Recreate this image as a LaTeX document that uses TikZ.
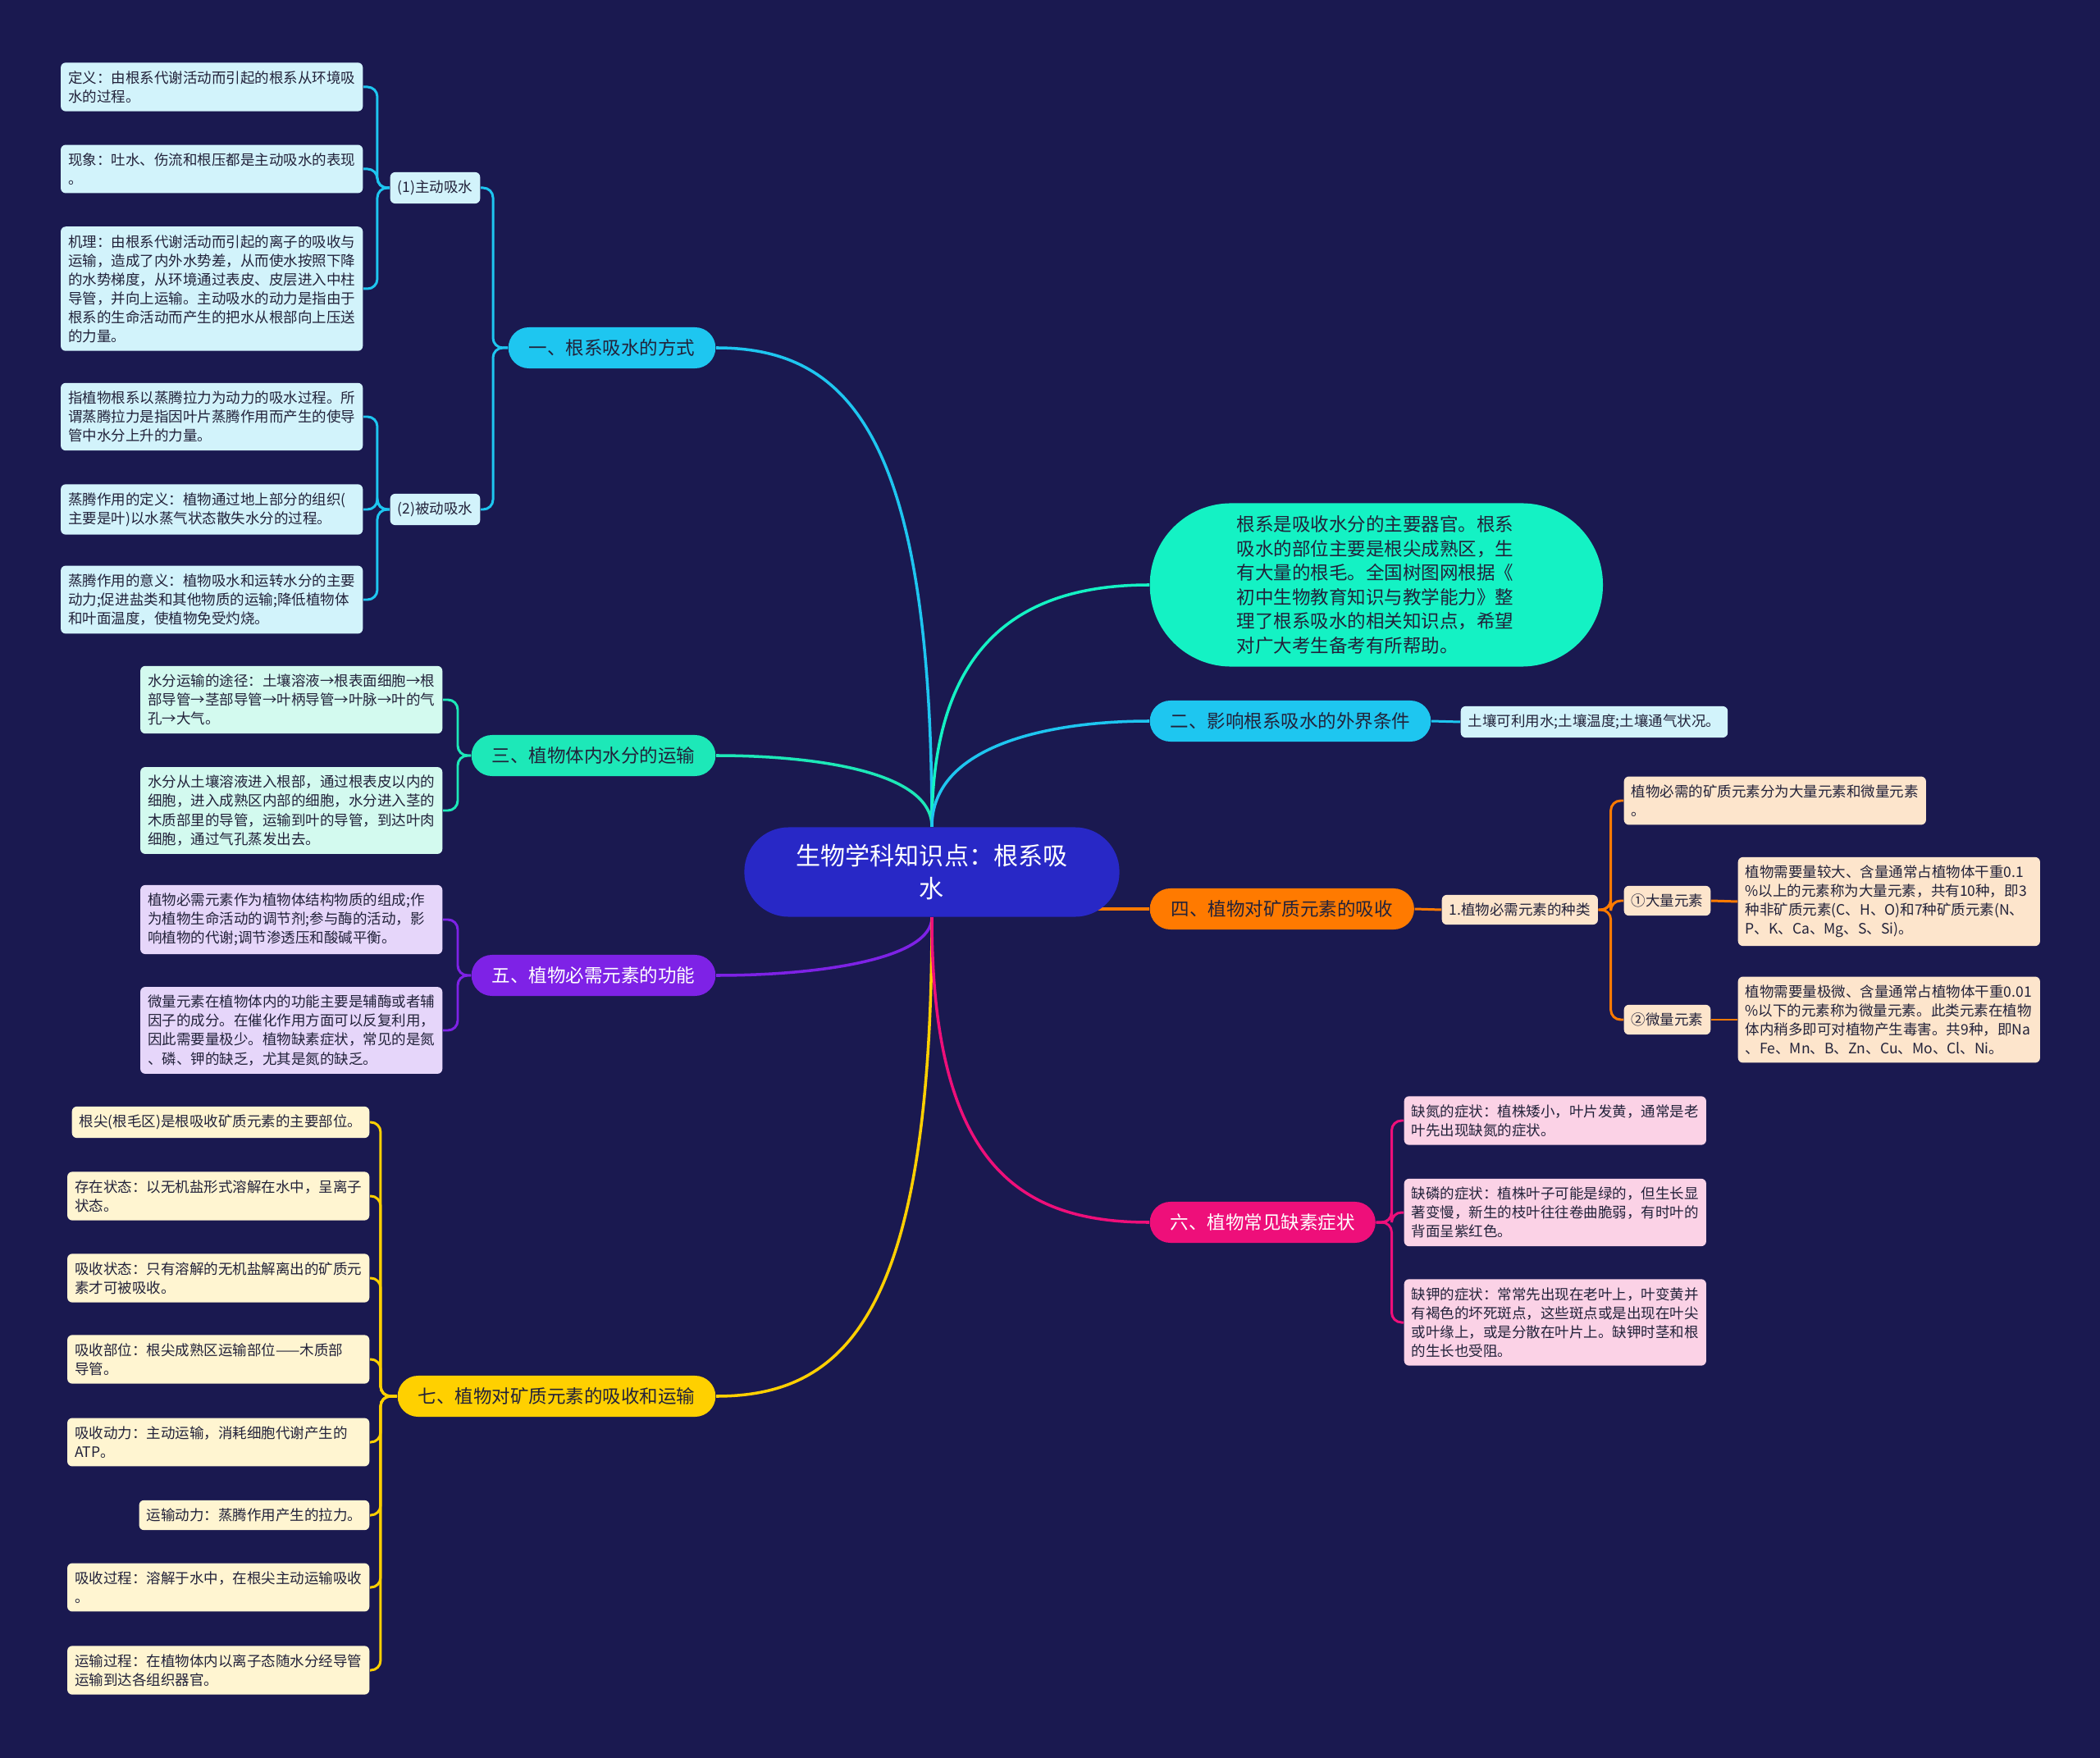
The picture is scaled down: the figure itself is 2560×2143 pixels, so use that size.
\documentclass[tikz,border=0pt]{standalone}
\usepackage{fontspec}
\setmainfont{Noto Sans CJK SC}
\usepackage{xcolor}
\usepackage{tikz}
\usetikzlibrary{calc}
\definecolor{bgx}{HTML}{1A1950}
\definecolor{rootx}{HTML}{2828C6}
\definecolor{inkx}{HTML}{22223A}
\definecolor{cyx}{HTML}{1EC6F0}
\definecolor{cylt}{HTML}{D2F3FB}
\definecolor{tqx}{HTML}{1DE8B8}
\definecolor{tqlt}{HTML}{D3FAEF}
\definecolor{aqx}{HTML}{14F2C4}
\definecolor{orx}{HTML}{FF7A00}
\definecolor{orlt}{HTML}{FDE5CC}
\definecolor{pux}{HTML}{7E22E6}
\definecolor{pult}{HTML}{E6D6FA}
\definecolor{mgx}{HTML}{EE0F7A}
\definecolor{mglt}{HTML}{FBD2E6}
\definecolor{gdx}{HTML}{FFD000}
\definecolor{gdlt}{HTML}{FFF5D1}
\pgfdeclarelayer{links}
\pgfsetlayers{links,main}
\tikzset{
  leaf/.style={font=\fontsize{4.98pt}{6.55pt}\selectfont,text=inkx,rounded corners=0.06cm,inner xsep=0.09cm,inner ysep=0.1cm,align=left},
  wide/.style={text width=3.5cm},
  branch/.style={font=\fontsize{6.4pt}{8pt}\selectfont,text=inkx,rounded corners=0.25cm,minimum height=0.5cm,inner xsep=0.25cm,inner ysep=0pt},
  mainln/.style={line width=1pt},
  subln/.style={line width=0.85pt,rounded corners=0.12cm}
}
\begin{document}
\begin{tikzpicture}[x=0.01cm,y=-0.01cm]
\useasboundingbox (0,0) rectangle (2560,2143);
% centre
\node[fill=rootx,text=white,font=\fontsize{8.54pt}{11.4pt}\selectfont,align=center,minimum width=4.57cm,minimum height=1.09cm,rounded corners=0.54cm] (root) at (1136,1063) {生物学科知识点：根系吸\\水};
% left side
\node[branch,fill=cyx,anchor=east] (b1) at (873,424) {一、根系吸水的方式};
\node[leaf,fill=cylt,anchor=east] (s1) at (586,229) {(1)主动吸水};
\node[leaf,fill=cylt,anchor=east] (s2) at (586,621) {(2)被动吸水};
\node[leaf,wide,fill=cylt,anchor=east] (l11) at (443,106) {定义：由根系代谢活动而引起的根系从环境吸\\水的过程。};
\node[leaf,wide,fill=cylt,anchor=east] (l12) at (443,206) {现象：吐水、伤流和根压都是主动吸水的表现\\。};
\node[leaf,wide,fill=cylt,anchor=east] (l13) at (443,352) {机理：由根系代谢活动而引起的离子的吸收与\\运输，造成了内外水势差，从而使水按照下降\\的水势梯度，从环境通过表皮、皮层进入中柱\\导管，并向上运输。主动吸水的动力是指由于\\根系的生命活动而产生的把水从根部向上压送\\的力量。};
\node[leaf,wide,fill=cylt,anchor=east] (l21) at (443,508) {指植物根系以蒸腾拉力为动力的吸水过程。所\\谓蒸腾拉力是指因叶片蒸腾作用而产生的使导\\管中水分上升的力量。};
\node[leaf,wide,fill=cylt,anchor=east] (l22) at (443,621) {蒸腾作用的定义：植物通过地上部分的组织(\\主要是叶)以水蒸气状态散失水分的过程。};
\node[leaf,wide,fill=cylt,anchor=east] (l23) at (443,731) {蒸腾作用的意义：植物吸水和运转水分的主要\\动力;促进盐类和其他物质的运输;降低植物体\\和叶面温度，使植物免受灼烧。};
\node[branch,fill=tqx,anchor=east] (b3) at (873,921) {三、植物体内水分的运输};
\node[leaf,wide,fill=tqlt,anchor=east] (l31) at (540,853) {水分运输的途径：土壤溶液→根表面细胞→根\\部导管→茎部导管→叶柄导管→叶脉→叶的气\\孔→大气。};
\node[leaf,wide,fill=tqlt,anchor=east] (l32) at (540,988) {水分从土壤溶液进入根部，通过根表皮以内的\\细胞，进入成熟区内部的细胞，水分进入茎的\\木质部里的导管，运输到叶的导管，到达叶肉\\细胞，通过气孔蒸发出去。};
\node[branch,fill=pux,text=white,anchor=east] (b5) at (873,1189) {五、植物必需元素的功能};
\node[leaf,wide,fill=pult,anchor=east] (l51) at (540,1121) {植物必需元素作为植物体结构物质的组成;作\\为植物生命活动的调节剂;参与酶的活动，影\\响植物的代谢;调节渗透压和酸碱平衡。};
\node[leaf,wide,fill=pult,anchor=east] (l52) at (540,1256) {微量元素在植物体内的功能主要是辅酶或者辅\\因子的成分。在催化作用方面可以反复利用，\\因此需要量极少。植物缺素症状，常见的是氮\\、磷、钾的缺乏，尤其是氮的缺乏。};
\node[branch,fill=gdx,anchor=east] (b7) at (873,1702) {七、植物对矿质元素的吸收和运输};
\node[leaf,fill=gdlt,anchor=east] (l71) at (451,1368) {根尖(根毛区)是根吸收矿质元素的主要部位。};
\node[leaf,wide,fill=gdlt,anchor=east] (l72) at (451,1458) {存在状态：以无机盐形式溶解在水中，呈离子\\状态。};
\node[leaf,wide,fill=gdlt,anchor=east] (l73) at (451,1558) {吸收状态：只有溶解的无机盐解离出的矿质元\\素才可被吸收。};
\node[leaf,wide,fill=gdlt,anchor=east] (l74) at (451,1657) {吸收部位：根尖成熟区运输部位——木质部\\导管。};
\node[leaf,wide,fill=gdlt,anchor=east] (l75) at (451,1758) {吸收动力：主动运输，消耗细胞代谢产生的\\ATP。};
\node[leaf,fill=gdlt,anchor=east] (l76) at (451,1847) {运输动力：蒸腾作用产生的拉力。};
\node[leaf,wide,fill=gdlt,anchor=east] (l77) at (451,1935) {吸收过程：溶解于水中，在根尖主动运输吸收\\。};
\node[leaf,wide,fill=gdlt,anchor=east] (l78) at (451,2036) {运输过程：在植物体内以离子态随水分经导管\\运输到达各组织器官。};
% right side
\node[fill=aqx,text=inkx,font=\fontsize{6.4pt}{8.4pt}\selectfont,align=left,text width=3.4cm,minimum width=5.52cm,minimum height=1.99cm,rounded corners=0.99cm,anchor=west] (intro) at (1401,713) {根系是吸收水分的主要器官。根系\\吸水的部位主要是根尖成熟区，生\\有大量的根毛。全国树图网根据《\\初中生物教育知识与教学能力》整\\理了根系吸水的相关知识点，希望\\对广大考生备考有所帮助。};
\node[branch,fill=cyx,anchor=west] (b2) at (1401,879) {二、影响根系吸水的外界条件};
\node[leaf,fill=cylt,anchor=west] (r2) at (1780,880) {土壤可利用水;土壤温度;土壤通气状况。};
\node[branch,fill=orx,minimum width=3.22cm,anchor=west] (b4) at (1401,1108) {四、植物对矿质元素的吸收};
\node[leaf,fill=orlt,anchor=west] (k4) at (1757,1109) {1.植物必需元素的种类};
\node[leaf,wide,fill=orlt,anchor=west] (k41) at (1979,976) {植物必需的矿质元素分为大量元素和微量元素\\。};
\node[leaf,fill=orlt,anchor=west] (k42) at (1979,1098) {①大量元素};
\node[leaf,fill=orlt,anchor=west] (k43) at (1979,1243) {②微量元素};
\node[leaf,wide,fill=orlt,anchor=west] (m42) at (2118,1099) {植物需要量较大、含量通常占植物体干重0.1\\\%以上的元素称为大量元素，共有10种，即3\\种非矿质元素(C、H、O)和7种矿质元素(N、\\P、K、Ca、Mg、S、Si)。};
\node[leaf,wide,fill=orlt,anchor=west] (m43) at (2118,1243) {植物需要量极微、含量通常占植物体干重0.01\\\%以下的元素称为微量元素。此类元素在植物\\体内稍多即可对植物产生毒害。共9种，即Na\\、Fe、Mn、B、Zn、Cu、Mo、Cl、Ni。};
\node[branch,fill=mgx,text=white,anchor=west] (b6) at (1401,1490) {六、植物常见缺素症状};
\node[leaf,wide,fill=mglt,anchor=west] (l61) at (1711,1366) {缺氮的症状：植株矮小，叶片发黄，通常是老\\叶先出现缺氮的症状。};
\node[leaf,wide,fill=mglt,anchor=west] (l62) at (1711,1478) {缺磷的症状：植株叶子可能是绿的，但生长显\\著变慢，新生的枝叶往往卷曲脆弱，有时叶的\\背面呈紫红色。};
\node[leaf,wide,fill=mglt,anchor=west] (l63) at (1711,1612) {缺钾的症状：常常先出现在老叶上，叶变黄并\\有褐色的坏死斑点，这些斑点或是出现在叶尖\\或叶缘上，或是分散在叶片上。缺钾时茎和根\\的生长也受阻。};
\begin{pgfonlayer}{links}
\fill[bgx] (0,0) rectangle (2560,2143);
% main branches
\draw[mainln,cyx] (root.north) .. controls +(0,-480) and +(160,0) .. (b1.east);
\draw[mainln,tqx] (root.north) .. controls +(0,-70) and +(110,0) .. (b3.east);
\draw[mainln,aqx] (root.north) .. controls +(0,-220) and +(-160,0) .. (intro.west);
\draw[mainln,cyx] (root.north) .. controls +(0,-100) and +(-120,0) .. (b2.west);
\draw[mainln,orx] (b4.west) -- (b4.west -| root.center);
\draw[mainln,pux] (root.south) .. controls +(0,50) and +(130,0) .. (b5.east);
\draw[mainln,gdx] (root.south) .. controls +(0,480) and +(160,0) .. (b7.east);
\draw[mainln,mgx] (root.south) .. controls +(0,300) and +(-160,0) .. (b6.west);
% sub branches
\foreach \n in {s1,s2} \draw[subln,cyx] (b1.west) -- ++(-18,0) |- (\n.east);
\foreach \n in {l11,l12,l13} \draw[subln,cyx] (s1.west) -- ++(-15,0) |- (\n.east);
\foreach \n in {l21,l22,l23} \draw[subln,cyx] (s2.west) -- ++(-15,0) |- (\n.east);
\foreach \n in {l31,l32} \draw[subln,tqx] (b3.west) -- ++(-16,0) |- (\n.east);
\foreach \n in {l51,l52} \draw[subln,pux] (b5.west) -- ++(-16,0) |- (\n.east);
\foreach \i in {1,...,8} \draw[subln,gdx] (b7.west) -- ++(-20,0) |- (l7\i.east);
\draw[subln,cyx] (b2.east) -- (r2.west);
\draw[subln,orx] (b4.east) -- (k4.west);
\foreach \n in {k41,k42,k43} \draw[subln,orx] (k4.east) -- ++(15,0) |- (\n.west);
\draw[subln,orx] (k42.east) -- (m42.west);
\draw[subln,orx] (k43.east) -- (m43.west);
\foreach \n in {l61,l62,l63} \draw[subln,mgx] (b6.east) -- ++(19,0) |- (\n.west);
\end{pgfonlayer}
\end{tikzpicture}
\end{document}
